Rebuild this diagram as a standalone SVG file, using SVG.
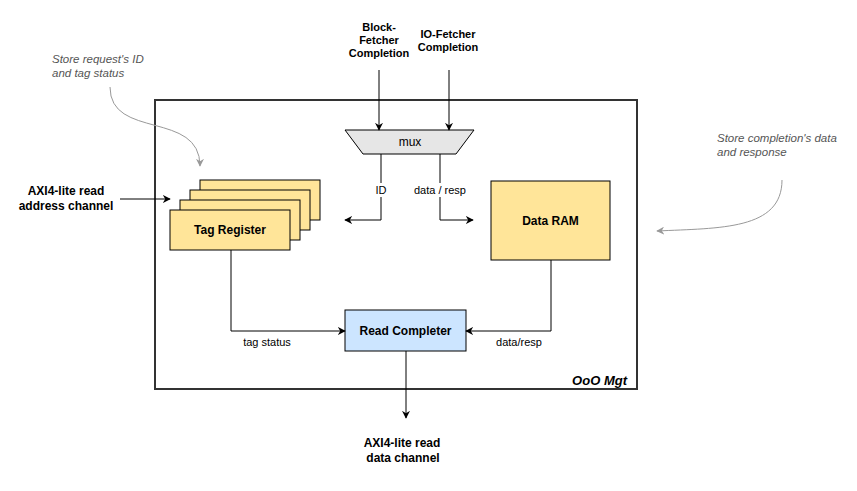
<svg xmlns="http://www.w3.org/2000/svg" width="857" height="491" viewBox="0 0 857 491">
<defs>
<marker id="arr" viewBox="0 0 10 10" refX="9" refY="5" markerWidth="8" markerHeight="8" markerUnits="userSpaceOnUse" orient="auto">
<path d="M0,0 L10,5 L0,10 L3,5 z" fill="#000"/>
</marker>
<marker id="garr" viewBox="0 0 10 10" refX="9" refY="5" markerWidth="8" markerHeight="8" markerUnits="userSpaceOnUse" orient="auto">
<path d="M0,0 L10,5 L0,10 L3,5 z" fill="#999"/>
</marker>
<style>
text{font-family:"Liberation Sans",Arial,sans-serif;fill:#000}
.b{font-weight:bold;font-size:12px}
.b11{font-weight:bold;font-size:11px}
.r{font-size:11px}
.note{font-size:11.5px;font-style:italic;fill:#555}
.box{stroke:#000;stroke-width:1}
.yel{fill:#ffe599}
.line{fill:none;stroke:#000;stroke-width:1;marker-end:url(#arr)}
.gline{fill:none;stroke:#999;stroke-width:1;marker-end:url(#garr)}
</style>
</defs>
<rect width="857" height="491" fill="#fff"/>

<g id="ooo-mgt">
<rect x="155" y="100" width="482" height="289" fill="none" stroke="#333" stroke-width="2"/>
<text x="627" y="384.5" text-anchor="end" style="font-weight:bold;font-size:13px;font-style:italic">OoO Mgt</text>
</g>

<g id="mux">
<polygon points="345,130 474,130 456,154 363,154" fill="#e6e6e6" stroke="#000"/>
<text x="410" y="146" style="font-size:12px" text-anchor="middle">mux</text>
</g>

<g id="tag-register">
<rect x="200" y="180" width="120" height="40" class="box yel"/>
<rect x="190" y="190" width="120" height="40" class="box yel"/>
<rect x="180" y="200" width="120" height="40" class="box yel"/>
<rect x="170" y="210" width="120" height="40" class="box yel"/>
<text x="230" y="234" class="b" text-anchor="middle">Tag Register</text>
</g>

<g id="data-ram">
<rect x="491" y="181" width="119" height="79" class="box yel"/>
<text x="550.5" y="224.5" class="b" text-anchor="middle">Data RAM</text>
</g>

<g id="read-completer">
<rect x="345" y="310" width="121" height="41" class="box" fill="#cce5ff"/>
<text x="405.5" y="334.5" class="b" text-anchor="middle">Read Completer</text>
</g>

<g id="labels">
<text class="b11" text-anchor="middle"><tspan x="379" y="31">Block-</tspan><tspan x="379" y="44">Fetcher</tspan><tspan x="379" y="57">Completion</tspan></text>
<text class="b11" text-anchor="middle"><tspan x="448" y="38">IO-Fetcher</tspan><tspan x="448" y="51">Completion</tspan></text>
<text class="b" text-anchor="middle"><tspan x="66" y="195">AXI4-lite read</tspan><tspan x="66" y="210">address channel</tspan></text>
<text class="b" text-anchor="middle"><tspan x="402" y="447">AXI4-lite read</tspan><tspan x="403" y="462">data channel</tspan></text>
<text class="note"><tspan x="52" y="63">Store request's ID</tspan><tspan x="52" y="77">and tag status</tspan></text>
<text class="note"><tspan x="717" y="142">Store completion's data</tspan><tspan x="717" y="156">and response</tspan></text>
</g>

<g id="connectors">
<path class="line" d="M379,70 V130"/>
<path class="line" d="M449,70 V130"/>
<path class="line" d="M120,199 H170"/>
<path class="line" d="M381,154 V220 H345"/>
<path class="line" d="M440,154 V220 H473"/>
<path class="line" d="M231,250 V331 H345"/>
<path class="line" d="M551,260 V331 H466"/>
<path class="line" d="M406,351 V418"/>
<path class="gline" d="M110,87 C110,140 200,110 200,166"/>
<path class="gline" d="M782,180 C782,230 720,228 657,231"/>
<rect x="373" y="183" width="16" height="14" fill="#fff"/>
<text x="381" y="194" class="r" text-anchor="middle">ID</text>
<rect x="413" y="183" width="55" height="14" fill="#fff"/>
<text x="440" y="194" class="r" text-anchor="middle">data / resp</text>
<text x="267" y="346" class="r" text-anchor="middle">tag status</text>
<text x="519" y="346" class="r" text-anchor="middle">data/resp</text>
</g>
</svg>
